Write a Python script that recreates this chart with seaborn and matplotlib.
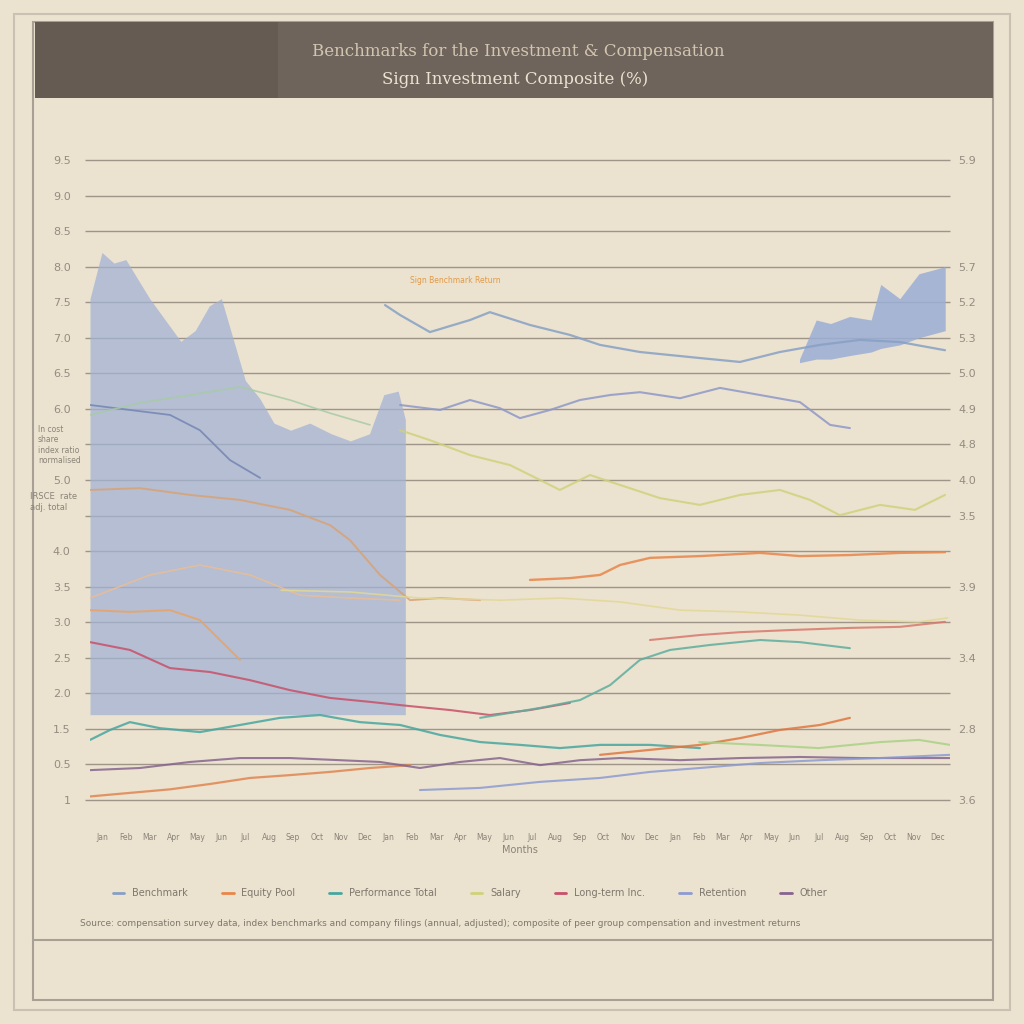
import matplotlib
matplotlib.use("Agg")
import matplotlib.pyplot as plt
import seaborn as sns
import numpy as np
import pandas as pd
from matplotlib.patches import Rectangle
from matplotlib.lines import Line2D

sns.set_theme(style="white")
plt.rcParams['font.family'] = ['DejaVu Sans']

# ---------------- data ----------------
title_line1 = "Benchmarks for the Investment & Compensation"
title_line2 = "Sign Investment Composite (%)"
x_label = "Months"
month_labels = ["Jan", "Feb", "Mar", "Apr", "May", "Jun", "Jul", "Aug", "Sep", "Oct", "Nov", "Dec"] * 3
left_tick_labels = ["1", "0.5", "1.5", "2.0", "2.5", "3.0", "3.5", "4.0", "", "5.0",
                    "", "6.0", "6.5", "7.0", "7.5", "8.0", "8.5", "9.0", "9.5"]
right_tick_labels = ["3.6", "", "2.8", "", "3.4", "", "3.9", "", "3.5", "4.0",
                     "4.8", "4.9", "5.0", "5.3", "5.2", "5.7", "", "", "5.9"]
legend_labels = ["Benchmark", "Equity Pool", "Performance Total", "Salary",
                 "Long-term Inc.", "Retention", "Other"]
footnote = ("Source: compensation survey data, index benchmarks and company filings "
            "(annual, adjusted); composite of peer group compensation and investment returns")
annotation_text = "Sign Benchmark Return"
note_upper = "In cost\nshare\nindex ratio\nnormalised"
note_lower = "IRSCE  rate\nadj. total"

# shaded areas
area_left_x = [0, 0.5, 1.0, 1.5, 2.5, 3.8, 4.4, 5.0, 5.5, 6.5, 7.1, 7.7, 8.4, 9.2, 10.1, 10.9, 11.7, 12.3, 12.9, 13.2]
area_left_y = [14.1, 15.4, 15.1, 15.2, 14.1, 12.9, 13.2, 13.9, 14.1, 11.8, 11.3, 10.6, 10.4, 10.6, 10.3, 10.1, 10.3, 11.4, 11.5, 10.7]
area_left_base = 2.4
area_right_x = [29.7, 30.4, 31.0, 31.8, 32.7, 33.1, 33.9, 34.7, 35.8]
area_right_upper = [12.4, 13.5, 13.4, 13.6, 13.5, 14.5, 14.1, 14.8, 15.0]
area_right_lower = [12.3, 12.4, 12.4, 12.5, 12.6, 12.7, 12.8, 13.0, 13.2]

# line series
steel_x = [12.35, 12.98, 14.23, 15.91, 16.74, 18.42, 20.09, 21.35, 23.02, 25.53, 27.21, 28.88, 30.56, 32.23, 33.91, 35.79]
steel_y = [13.92, 13.64, 13.16, 13.50, 13.72, 13.36, 13.08, 12.80, 12.60, 12.43, 12.32, 12.60, 12.80, 12.94, 12.88, 12.65]

periwinkle_x = [12.98, 14.65, 15.91, 17.16, 18.0, 19.26, 20.51, 21.77, 23.02, 24.70, 26.37, 28.05, 29.72, 30.98, 31.81]
periwinkle_y = [11.11, 10.97, 11.25, 11.02, 10.74, 10.97, 11.25, 11.39, 11.47, 11.30, 11.59, 11.39, 11.19, 10.55, 10.46]

slate_x = [0, 1.67, 3.35, 4.6, 5.86, 7.12]
slate_y = [11.11, 10.97, 10.83, 10.40, 9.56, 9.06]

sage_x = [0, 2.09, 4.19, 6.28, 8.37, 10.05, 11.72]
sage_y = [10.83, 11.17, 11.39, 11.62, 11.25, 10.88, 10.55]

lime_x = [12.98, 14.23, 15.91, 17.58, 18.84, 19.67, 20.93, 22.19, 23.86, 25.53, 27.21, 28.88, 30.14, 31.39, 33.07, 34.53, 35.79]
lime_y = [10.40, 10.12, 9.70, 9.42, 9.00, 8.72, 9.14, 8.86, 8.49, 8.30, 8.58, 8.72, 8.44, 8.01, 8.30, 8.16, 8.58]

tan_x = [0, 2.09, 4.19, 6.28, 8.37, 10.05, 10.88, 12.14, 13.40, 14.65, 16.33]
tan_y = [8.72, 8.77, 8.58, 8.44, 8.16, 7.73, 7.31, 6.33, 5.62, 5.68, 5.62]

orange_x = [18.42, 20.09, 21.35, 22.19, 23.44, 25.53, 28.05, 29.72, 31.81, 33.91, 35.79]
orange_y = [6.19, 6.24, 6.33, 6.61, 6.81, 6.86, 6.95, 6.86, 6.89, 6.95, 6.97]

peach_x = [0, 2.51, 4.6, 6.70, 8.79, 10.88, 12.98]
peach_y = [5.68, 6.33, 6.61, 6.33, 5.76, 5.68, 5.62]

apricot_x = [0, 1.67, 3.35, 4.6, 5.44, 6.28]
apricot_y = [5.34, 5.29, 5.34, 5.06, 4.50, 3.94]

straw_x = [8.0, 10.9, 13.8, 17.2, 19.7, 22.2, 24.7, 27.2, 29.7, 32.2, 34.7, 35.9]
straw_y = [5.90, 5.85, 5.68, 5.62, 5.68, 5.57, 5.34, 5.29, 5.20, 5.06, 5.01, 5.12]

crimson_x = [0, 1.67, 3.35, 5.02, 6.70, 8.37, 10.05, 11.72, 13.40, 15.07, 16.74, 18.42, 20.09]
crimson_y = [4.44, 4.22, 3.71, 3.60, 3.37, 3.09, 2.87, 2.76, 2.64, 2.53, 2.39, 2.53, 2.73]

teal_x = [0, 0.84, 1.67, 2.93, 4.6, 6.28, 7.95, 9.63, 11.30, 12.98, 14.65, 16.33, 18.0, 19.67, 21.35, 23.44, 25.53]
teal_y = [1.69, 1.97, 2.19, 2.02, 1.91, 2.11, 2.31, 2.39, 2.19, 2.11, 1.83, 1.63, 1.55, 1.46, 1.55, 1.55, 1.46]

jade_x = [16.33, 18.84, 20.51, 21.77, 23.02, 24.28, 25.95, 28.05, 29.72, 31.81]
jade_y = [2.31, 2.59, 2.81, 3.23, 3.94, 4.22, 4.36, 4.50, 4.44, 4.27]

salmon_x = [23.44, 25.53, 27.21, 29.30, 31.81, 33.91, 35.79]
salmon_y = [4.50, 4.64, 4.72, 4.78, 4.84, 4.87, 5.01]

rust_x = [21.35, 23.44, 25.53, 27.21, 28.88, 30.56, 31.81]
rust_y = [1.27, 1.41, 1.55, 1.74, 1.97, 2.11, 2.31]

copper_x = [0, 1.67, 3.35, 5.02, 6.70, 8.37, 10.05, 11.72, 13.40]
copper_y = [0.10, 0.20, 0.30, 0.45, 0.62, 0.70, 0.79, 0.90, 0.98]

plum_x = [0, 2.09, 4.19, 6.28, 8.37, 10.46, 12.14, 13.81, 15.49, 17.16, 18.84, 20.51, 22.19, 24.70, 27.21, 29.72, 32.23, 36.0]
plum_y = [0.84, 0.90, 1.07, 1.18, 1.18, 1.12, 1.07, 0.90, 1.07, 1.18, 0.98, 1.12, 1.18, 1.12, 1.18, 1.21, 1.18, 1.18]

lavender_x = [13.81, 16.33, 18.84, 21.35, 23.44, 25.53, 28.05, 30.56, 33.07, 36.0]
lavender_y = [0.28, 0.34, 0.51, 0.62, 0.79, 0.90, 1.04, 1.12, 1.18, 1.27]

mint_x = [25.5, 28.0, 30.5, 33.1, 34.7, 36.0]
mint_y = [1.63, 1.55, 1.46, 1.63, 1.69, 1.55]

series = [
    (steel_x, steel_y, "#86a0c4", 1.6),
    (periwinkle_x, periwinkle_y, "#8f98c8", 1.5),
    (slate_x, slate_y, "#7584b4", 1.3),
    (sage_x, sage_y, "#a7cba5", 1.2),
    (lime_x, lime_y, "#cfd27a", 1.5),
    (tan_x, tan_y, "#d9a274", 1.4),
    (orange_x, orange_y, "#e8864a", 1.7),
    (peach_x, peach_y, "#ebbd94", 1.2),
    (apricot_x, apricot_y, "#eaa264", 1.4),
    (straw_x, straw_y, "#e2d894", 1.2),
    (crimson_x, crimson_y, "#c8506a", 1.5),
    (teal_x, teal_y, "#47a79f", 1.6),
    (jade_x, jade_y, "#5eae9e", 1.5),
    (salmon_x, salmon_y, "#d8786e", 1.5),
    (rust_x, rust_y, "#e0773f", 1.6),
    (copper_x, copper_y, "#e08650", 1.6),
    (plum_x, plum_y, "#86648e", 1.5),
    (lavender_x, lavender_y, "#8c9bd0", 1.5),
    (mint_x, mint_y, "#a9d284", 1.5),
]

legend_colors = ["#86a0c4", "#e8864a", "#47a79f", "#cfd27a", "#c8506a", "#8c9bd0", "#86648e"]

# ---------------- figure ----------------
bg = "#ebe2d0"
fig = plt.figure(figsize=(10.24, 10.24), dpi=100, facecolor=bg)

def fx(px):
    return px / 1024.0

def fy(py):
    return 1 - py / 1024.0

# frames
fig.patches.append(Rectangle((fx(14), fy(1010)), fx(996), 996 / 1024.0, transform=fig.transFigure,
                             fill=False, edgecolor="#c9c1b3", lw=1.5))
fig.patches.append(Rectangle((fx(33), fy(1000)), fx(960), 978 / 1024.0, transform=fig.transFigure,
                             fill=False, edgecolor="#a8a094", lw=1.5))
# title banner
fig.patches.append(Rectangle((fx(35), fy(98)), fx(958), 76 / 1024.0, transform=fig.transFigure,
                             facecolor="#6e645c", edgecolor="none"))
fig.patches.append(Rectangle((fx(35), fy(98)), fx(243), 76 / 1024.0, transform=fig.transFigure,
                             facecolor="#655b53", edgecolor="none"))
fig.text(fx(518), fy(52), title_line1, ha="center", va="center", fontsize=12,
         color="#d2c6b0", family="DejaVu Serif")
fig.text(fx(515), fy(79), title_line2, ha="center", va="center", fontsize=12,
         color="#ece3d0", family="DejaVu Serif")
# bottom separator
fig.add_artist(Line2D([fx(33), fx(993)], [fy(940), fy(940)], transform=fig.transFigure,
                      color="#a8a094", lw=1.5))

ax = fig.add_axes([fx(90), fy(800), fx(860), 640 / 1024.0])
ax.set_facecolor(bg)
ax.patch.set_alpha(0)
ax.set_xlim(0, 36)
ax.set_ylim(0, 18)

# gridlines
ax.hlines(np.arange(0, 19), -0.006, 1.0, transform=ax.get_yaxis_transform(), clip_on=False,
          color="#9e9588", lw=1.0, zorder=0.5)

# areas
ax.fill_between(area_left_x + [13.2], area_left_y + [area_left_base], area_left_base,
                color="#a3b3d4", alpha=0.75, lw=0, zorder=1)
ax.fill_between(area_right_x, area_right_upper, area_right_lower,
                color="#9aaed4", alpha=0.85, lw=0, zorder=1)

for xs, ys, c, lw in series:
    sns.lineplot(x=xs, y=ys, ax=ax, color=c, lw=lw, alpha=0.85, zorder=3)

ax.text(13.4, 14.6, annotation_text, fontsize=5.5, color="#e39a45", va="center")

for s in ax.spines.values():
    s.set_visible(False)

ax.set_yticks(np.arange(0, 19))
ax.set_yticklabels(left_tick_labels, fontsize=8, color="#948c80")
ax.tick_params(axis="y", length=0, pad=14)
ax.set_xticks(np.arange(0.5, 36, 1))
ax.set_xticklabels(month_labels, fontsize=5.5, color="#8a8378", rotation=0)
ax.tick_params(axis="x", length=0, pad=24)
ax.set_xlabel(x_label, fontsize=7, color="#8a8378", labelpad=2)
ax.set_ylabel("")

ax2 = ax.twinx()
ax2.set_ylim(0, 18)
ax2.set_yticks(np.arange(0, 19))
ax2.set_yticklabels(right_tick_labels, fontsize=8, color="#948c80")
ax2.tick_params(axis="y", length=0, pad=6)
for s in ax2.spines.values():
    s.set_visible(False)

# left side notes
fig.text(fx(38), fy(445), note_upper, fontsize=5.5,
         color="#8a8378", va="center", ha="left")
fig.text(fx(30), fy(502), note_lower, fontsize=6,
         color="#8a8378", va="center", ha="left")

# legend
handles = [Line2D([0], [0], color=c, lw=2) for c in legend_colors]
leg = fig.legend(handles, legend_labels, loc="center", bbox_to_anchor=(fx(470), fy(893)),
                 ncol=7, fontsize=7, frameon=False, handlelength=1.2, columnspacing=3.5,
                 labelcolor="#7e776c")

fig.text(fx(80), fy(923), footnote, fontsize=6.5, color="#7e776c", ha="left", va="center")

fig.savefig("out.png", dpi=100, facecolor=bg)
